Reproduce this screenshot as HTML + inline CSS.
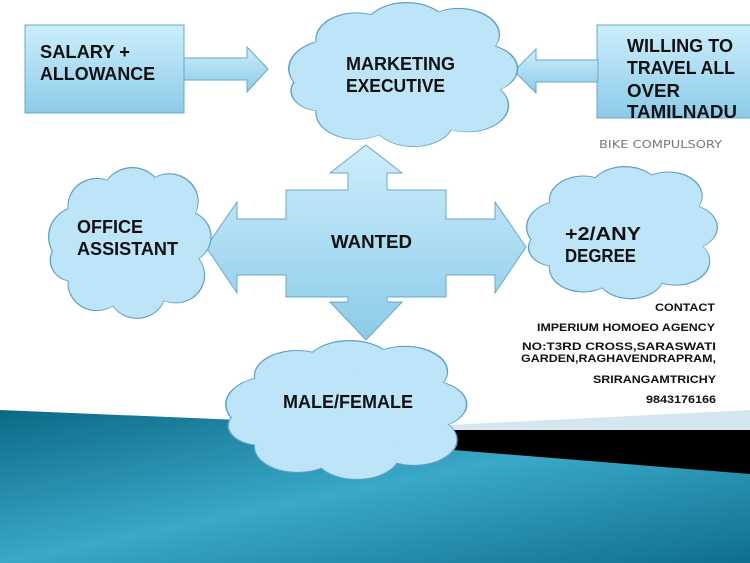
<!DOCTYPE html><html><head><meta charset="utf-8"><style>html,body{margin:0;padding:0;background:#fff}svg{display:block}text{font-family:"Liberation Sans Narrow","Liberation Sans",sans-serif;font-weight:bold;fill:#111}</style></head><body>
<svg width="750" height="563" viewBox="0 0 750 563" xmlns="http://www.w3.org/2000/svg">
<defs>
<linearGradient id="bl" x1="0" y1="0" x2="0" y2="1"><stop offset="0" stop-color="#cdeefc"/><stop offset="1" stop-color="#8ccbe9"/></linearGradient>
<linearGradient id="tl" x1="0" y1="0" x2="1" y2="1"><stop offset="0" stop-color="#0b6a86"/><stop offset="0.5" stop-color="#3aa8c8"/><stop offset="1" stop-color="#0e6f8d"/></linearGradient>
<g id="cl">
<circle cx="20" cy="45" r="20"/><circle cx="30" cy="25" r="18"/><circle cx="52" cy="19" r="19"/><circle cx="75" cy="22" r="18"/><circle cx="84" cy="45" r="17"/><circle cx="79" cy="70" r="18"/><circle cx="55" cy="80" r="18"/><circle cx="30" cy="75" r="18"/><circle cx="15" cy="60" r="14"/><circle cx="50" cy="50" r="30"/>
</g>
</defs>
<polygon points="0,410 480,430 750,470 750,563 0,563" fill="url(#tl)"/>
<polygon points="330,431 750,410 750,431" fill="#d4e6ee"/>
<polygon points="330,430 750,430 750,474 330,440" fill="#000"/>

<rect x="25" y="25" width="159" height="88" fill="url(#bl)" stroke="#6aa8c9"/>
<rect x="597" y="25" width="160" height="93" fill="url(#bl)" stroke="#6aa8c9"/>
<polygon points="184,58 247,58 247,47 268,69 247,92 247,80 184,80" fill="url(#bl)" stroke="#6aa8c9"/>
<polygon points="598,60 536,60 536,49 514,71 536,93 536,82 598,82" fill="url(#bl)" stroke="#6aa8c9"/>

<polygon points="348,173 330,173 366,145 402,173 387,173 387,190 446,190 446,219 495,219 495,202 526,247 495,293 495,275 446,275 446,297 387,297 387,302 402,302 366,340 330,302 348,302 348,297 286,297 286,275 237,275 237,293 206,247 237,202 237,219 286,219 286,190 348,190" fill="url(#bl)" stroke="#6aa8c9"/>

<g fill="#5f9fc4">
<g transform="translate(288,2) scale(2.28,1.48)"><use href="#cl"/></g>
<g transform="translate(48,167) scale(1.62,1.55)"><use href="#cl"/></g>
<g transform="translate(526,166) scale(1.9,1.36)"><use href="#cl"/></g>
<g transform="translate(225,340) scale(2.4,1.43)"><use href="#cl"/></g>
</g>
<g fill="#bde4f7">
<g transform="translate(289.5,3.2) scale(2.25,1.46)"><use href="#cl"/></g>
<g transform="translate(49.3,168.3) scale(1.595,1.525)"><use href="#cl"/></g>
<g transform="translate(527.3,167.2) scale(1.875,1.335)"><use href="#cl"/></g>
<g transform="translate(226.5,341.2) scale(2.37,1.405)"><use href="#cl"/></g>
</g>

<g font-size="18">
<text x="40" y="58" textLength="90" lengthAdjust="spacingAndGlyphs">SALARY +</text>
<text x="40" y="80" textLength="115" lengthAdjust="spacingAndGlyphs">ALLOWANCE</text>
<text x="346" y="70" textLength="109" lengthAdjust="spacingAndGlyphs">MARKETING</text>
<text x="346" y="92" textLength="99" lengthAdjust="spacingAndGlyphs">EXECUTIVE</text>
<text x="627" y="52" textLength="106" lengthAdjust="spacingAndGlyphs">WILLING TO</text>
<text x="627" y="74" textLength="108" lengthAdjust="spacingAndGlyphs">TRAVEL ALL</text>
<text x="627" y="97" textLength="53" lengthAdjust="spacingAndGlyphs">OVER</text>
<text x="627" y="118" textLength="110" lengthAdjust="spacingAndGlyphs">TAMILNADU</text>
<text x="77" y="233" textLength="66" lengthAdjust="spacingAndGlyphs">OFFICE</text>
<text x="77" y="255" textLength="101" lengthAdjust="spacingAndGlyphs">ASSISTANT</text>
<text x="331" y="248" textLength="81" lengthAdjust="spacingAndGlyphs">WANTED</text>
<text x="565" y="240" textLength="76" lengthAdjust="spacingAndGlyphs">+2/ANY</text>
<text x="565" y="262" textLength="71" lengthAdjust="spacingAndGlyphs">DEGREE</text>
<text x="283" y="408" textLength="130" lengthAdjust="spacingAndGlyphs">MALE/FEMALE</text>
</g>
<text x="599" y="148" font-size="11" textLength="123" lengthAdjust="spacingAndGlyphs" style="font-family:'DejaVu Sans',sans-serif;font-weight:normal;fill:#777">BIKE COMPULSORY</text>
<g font-size="11" text-anchor="end" fill="#333">
<text x="715" y="311" textLength="60" lengthAdjust="spacingAndGlyphs">CONTACT</text>
<text x="715" y="331" textLength="178" lengthAdjust="spacingAndGlyphs">IMPERIUM HOMOEO AGENCY</text>
<text x="716" y="350" textLength="194" lengthAdjust="spacingAndGlyphs">NO:T3RD CROSS,SARASWATI</text>
<text x="716" y="362" textLength="195" lengthAdjust="spacingAndGlyphs">GARDEN,RAGHAVENDRAPRAM,</text>
<text x="716" y="383" textLength="123" lengthAdjust="spacingAndGlyphs">SRIRANGAMTRICHY</text>
<text x="716" y="403" textLength="70" lengthAdjust="spacingAndGlyphs">9843176166</text>
</g>
</svg>
</body></html>
